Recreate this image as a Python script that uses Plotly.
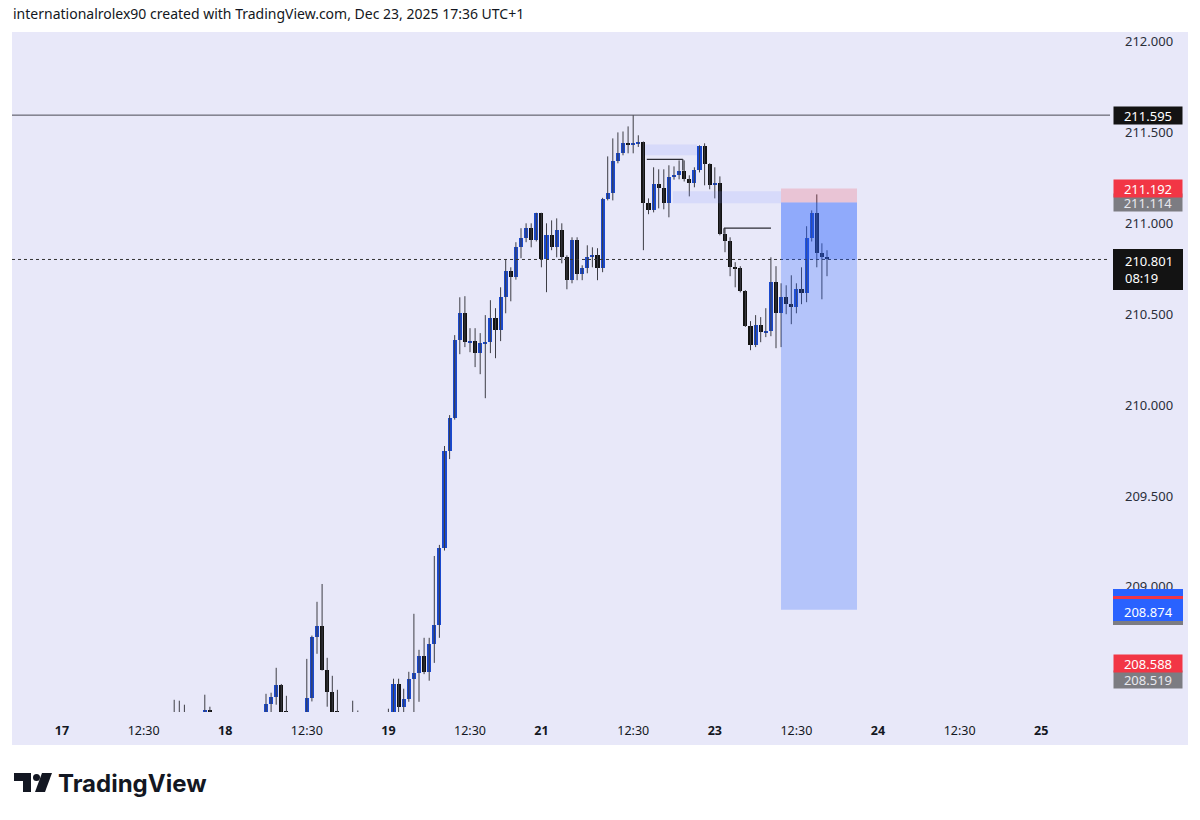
import plotly.graph_objects as go

# ---------------- data (GBPJPY-like, 45-minute bars) ----------------
FIRST_BAR = 24  # bar index of first listed bar (bars start Dec 16 23:00, every 0.75 h)
opens = [208.26, 208.22, 208.25, 208.21, 208.18, 208.20, 208.24, 208.324, 208.27, 208.22,
         208.17, 208.15, 208.19, 208.16, 208.13, 208.18, 208.21, 208.24, 208.28, 208.357,
         208.396, 208.462, 208.318, 208.25, 208.21, 208.19, 208.26, 208.390, 208.725, 208.786,
         208.544, 208.423, 208.315, 208.26, 208.22, 208.20, 208.24, 208.22, 208.17, 208.20,
         208.23, 208.21, 208.26, 208.29, 208.467, 208.341, 208.385, 208.495, 208.527, 208.621,
         208.533, 208.687, 208.791, 209.214, 209.747, 209.929, 210.357, 210.505, 210.346, 210.352,
         210.286, 210.341, 210.346, 210.478, 210.412, 210.593, 210.736, 210.703, 210.868, 210.918,
         210.973, 210.907, 211.055, 210.802, 210.934, 210.868, 210.962, 210.813, 210.687, 210.907,
         210.720, 210.753, 210.813, 210.824, 210.753, 211.132, 211.165, 211.341, 211.385, 211.440,
         211.429, 211.440, 211.445, 211.110, 211.071, 211.214, 211.192, 211.110, 211.253, 211.264,
         211.286, 211.242, 211.220, 211.291, 211.423, 211.324, 211.209, 211.220, 210.940, 210.901,
         210.758, 210.753, 210.626, 210.434, 210.330, 210.440, 210.401, 210.407, 210.676, 210.505,
         210.593, 210.555, 210.538, 210.637, 210.615, 210.918, 211.055, 210.835, 210.813]
highs = [208.379, 208.374, 208.352, 208.28, 208.27, 208.30, 208.407, 208.341, 208.30, 208.28,
         208.24, 208.22, 208.27, 208.23, 208.21, 208.26, 208.29, 208.30, 208.412, 208.418,
         208.555, 208.466, 208.401, 208.30, 208.28, 208.29, 208.604, 208.732, 208.918, 209.016,
         208.610, 208.511, 208.434, 208.30, 208.29, 208.374, 208.32, 208.28, 208.25, 208.27,
         208.30, 208.29, 208.33, 208.495, 208.495, 208.44, 208.533, 208.852, 208.654, 208.720,
         208.720, 209.170, 209.231, 209.775, 209.945, 210.385, 210.593, 210.599, 210.423, 210.423,
         210.396, 210.495, 210.577, 210.533, 210.648, 210.802, 210.758, 210.896, 210.973, 211.000,
         211.000, 211.058, 211.058, 211.000, 211.016, 211.027, 211.000, 210.824, 210.923, 210.923,
         210.769, 210.879, 210.868, 210.863, 211.140, 211.368, 211.467, 211.500, 211.505, 211.533,
         211.595, 211.484, 211.450, 211.137, 211.308, 211.297, 211.297, 211.319, 211.313, 211.346,
         211.346, 211.264, 211.308, 211.429, 211.440, 211.330, 211.308, 211.258, 210.973, 210.923,
         210.786, 210.764, 210.632, 210.462, 210.495, 210.484, 210.533, 210.813, 210.764, 210.670,
         210.659, 210.714, 210.670, 210.758, 210.984, 211.071, 211.159, 210.890, 210.852]
lows = [208.18, 208.15, 208.17, 208.12, 208.10, 208.15, 208.20, 208.22, 208.18, 208.14,
        208.10, 208.08, 208.12, 208.09, 208.06, 208.12, 208.15, 208.19, 208.25, 208.29,
        208.352, 208.26, 208.20, 208.17, 208.13, 208.15, 208.24, 208.37, 208.632, 208.54,
        208.341, 208.25, 208.22, 208.18, 208.15, 208.16, 208.19, 208.14, 208.11, 208.15,
        208.18, 208.16, 208.22, 208.27, 208.28, 208.29, 208.368, 208.30, 208.368, 208.52,
        208.484, 208.582, 208.720, 209.20, 209.703, 209.92, 210.280, 210.319, 210.291, 210.209,
        210.170, 210.038, 210.286, 210.258, 210.352, 210.505, 210.571, 210.69, 210.808, 210.896,
        210.868, 210.90, 210.758, 210.621, 210.852, 210.813, 210.780, 210.637, 210.670, 210.687,
        210.687, 210.725, 210.758, 210.687, 210.731, 211.126, 211.126, 211.330, 211.374, 211.385,
        211.385, 211.42, 210.852, 211.05, 211.060, 211.082, 211.077, 211.033, 211.24, 211.242,
        211.23, 211.148, 211.198, 211.28, 211.209, 211.187, 211.137, 210.934, 210.841, 210.709,
        210.648, 210.62, 210.43, 210.302, 210.319, 210.346, 210.374, 210.379, 210.313, 210.319,
        210.500, 210.445, 210.505, 210.555, 210.566, 210.90, 210.758, 210.582, 210.709]
closes = [208.22, 208.25, 208.21, 208.18, 208.20, 208.24, 208.324, 208.27, 208.22, 208.17,
          208.15, 208.19, 208.16, 208.13, 208.18, 208.21, 208.24, 208.28, 208.357, 208.396,
          208.462, 208.30, 208.25, 208.21, 208.19, 208.26, 208.390, 208.725, 208.786, 208.544,
          208.423, 208.28, 208.26, 208.22, 208.20, 208.24, 208.22, 208.17, 208.20, 208.23,
          208.21, 208.26, 208.29, 208.467, 208.341, 208.385, 208.495, 208.527, 208.621, 208.533,
          208.687, 208.791, 209.214, 209.747, 209.929, 210.357, 210.505, 210.346, 210.352, 210.286,
          210.341, 210.346, 210.478, 210.412, 210.593, 210.736, 210.703, 210.868, 210.918, 210.973,
          210.907, 211.055, 210.802, 210.934, 210.868, 210.962, 210.813, 210.687, 210.907, 210.720,
          210.753, 210.813, 210.824, 210.753, 211.132, 211.165, 211.341, 211.385, 211.440, 211.429,
          211.440, 211.445, 211.110, 211.071, 211.214, 211.192, 211.110, 211.253, 211.264, 211.286,
          211.242, 211.220, 211.291, 211.423, 211.324, 211.209, 211.220, 210.940, 210.901, 210.758,
          210.753, 210.626, 210.434, 210.330, 210.440, 210.401, 210.407, 210.676, 210.505, 210.593,
          210.555, 210.538, 210.637, 210.615, 210.918, 211.055, 210.835, 210.813, 210.801]

# time axis: trading hours since Dec 17 00:00 (weekend removed)
x_tick_hours = [0.5, 12.5, 24.5, 36.5, 48.5, 60.5, 71, 84.5, 96.5, 108.5, 120.5, 132.5, 144.5]
x_tick_labels = ["17", "12:30", "18", "12:30", "19", "12:30", "21", "12:30", "23", "12:30", "24", "12:30", "25"]
y_tick_values = [212.0, 211.5, 211.0, 210.5, 210.0, 209.5, 209.0]

# levels / drawings
high_level = 211.595
last_price = 210.801
countdown = "08:19"
entry_price = 211.114
stop_price = 211.192
target_price = 208.874
alert_red = 208.588
alert_gray = 208.519
zone1_hours, zone1_prices = (86.24, 93.88), (211.374, 211.434)
zone2_hours, zone2_prices = (90.35, 106.24), (211.110, 211.176)
lineA_hours, lineA_price, lineA_hook = (86.5, 91.8), 211.352, 211.291
lineB_hours, lineB_price, lineB_hook = (97.85, 104.76), 210.973, 210.942
position_hours = (106.24, 117.41)

header = "internationalrolex90 created with TradingView.com, Dec 23, 2025 17:36 UTC+1"

# ---------------- styling ----------------
OFF = 8                       # page body margin of the html page
W, H = 1200 - OFF, 820 - OFF
L, R, T, B = 12, 1110, 32, 712   # plot area in screen pixels
BG = "#E8E8F9"
BLUE = "#1A49CE"
BLACK = "#121212"
WICK = "#3d3d45"
FONT = "Noto Sans"

def px(xp):
    return (xp - L) / (R - L)

def py(yp):
    return (B - yp) / (B - T)

bar_hours = [-1 + 0.75 * (FIRST_BAR + i) for i in range(len(opens))]

wx, wy = [], []
for h, lo, hi in zip(bar_hours, lows, highs):
    wx += [h, h, None]
    wy += [lo, hi, None]

body_base = [min(o, c) for o, c in zip(opens, closes)]
body_h = [max(abs(c - o), 0.006) for o, c in zip(opens, closes)]
body_col = [BLUE if c >= o else BLACK for o, c in zip(opens, closes)]

fig = go.Figure()
fig.add_trace(go.Scatter(x=wx, y=wy, mode="lines", line=dict(color=WICK, width=1),
                         hoverinfo="skip", showlegend=False))
fig.add_trace(go.Bar(x=bar_hours, y=body_h, base=body_base, width=0.6,
                     marker=dict(color=body_col, line=dict(width=0)),
                     hoverinfo="skip", showlegend=False))

shapes = []
# panel background
shapes.append(dict(type="rect", xref="paper", yref="paper", x0=px(12), x1=px(1188),
                   y0=py(745), y1=py(32), fillcolor=BG, line=dict(width=0), layer="below"))
# horizontal levels
shapes.append(dict(type="line", xref="paper", yref="y", x0=0, x1=1, y0=high_level, y1=high_level,
                   line=dict(color="#4a4a55", width=1), layer="above"))
shapes.append(dict(type="line", xref="paper", yref="y", x0=0, x1=1, y0=last_price, y1=last_price,
                   line=dict(color="#333333", width=1, dash="dot"), layer="above"))
# zones
for hs, ps in [(zone1_hours, zone1_prices), (zone2_hours, zone2_prices)]:
    shapes.append(dict(type="rect", xref="x", yref="y", x0=hs[0], x1=hs[1], y0=ps[0], y1=ps[1],
                       fillcolor="rgba(130,150,255,0.17)", line=dict(width=0), layer="above"))
# lines with hooks
shapes.append(dict(type="line", xref="x", yref="y", x0=lineA_hours[0], x1=lineA_hours[1],
                   y0=lineA_price, y1=lineA_price, line=dict(color="#2b2b33", width=1.2), layer="above"))
shapes.append(dict(type="line", xref="x", yref="y", x0=lineA_hours[1], x1=lineA_hours[1],
                   y0=lineA_price, y1=lineA_hook, line=dict(color="#2b2b33", width=1.2), layer="above"))
shapes.append(dict(type="line", xref="x", yref="y", x0=lineB_hours[0], x1=lineB_hours[1],
                   y0=lineB_price, y1=lineB_price, line=dict(color="#2b2b33", width=1.2), layer="above"))
shapes.append(dict(type="line", xref="x", yref="y", x0=lineB_hours[0], x1=lineB_hours[0],
                   y0=lineB_price, y1=lineB_hook, line=dict(color="#2b2b33", width=1.2), layer="above"))
# short position tool
shapes.append(dict(type="rect", xref="x", yref="y", x0=position_hours[0], x1=position_hours[1],
                   y0=entry_price, y1=stop_price, fillcolor="rgba(242,54,69,0.20)",
                   line=dict(width=0), layer="above"))
shapes.append(dict(type="rect", xref="x", yref="y", x0=position_hours[0], x1=position_hours[1],
                   y0=target_price, y1=entry_price, fillcolor="rgba(41,98,255,0.27)",
                   line=dict(width=0), layer="above"))
shapes.append(dict(type="rect", xref="x", yref="y", x0=position_hours[0], x1=position_hours[1],
                   y0=last_price, y1=entry_price, fillcolor="rgba(41,98,255,0.26)",
                   line=dict(width=0), layer="above"))

annotations = []

def price_label(price, text, bg, fg="#ffffff", yshift=0, h=17):
    annotations.append(dict(xref="paper", yref="y", x=px(1148), y=price, text=text,
                            showarrow=False, xanchor="center", yanchor="middle", yshift=yshift,
                            bgcolor=bg, width=68, height=h, borderpad=0,
                            font=dict(family=FONT, size=13, color=fg)))

# label boxes on the price axis
price_label(alert_gray, f"{alert_gray:.3f}", "#7c7c82", "#e8e8ee", yshift=-5)
price_label(alert_red, f"{alert_red:.3f}", "#F23645", yshift=-2)
# stacked blue target label with red/gray strips
shapes.append(dict(type="rect", xref="paper", yref="paper", x0=px(1113), x1=px(1183),
                   y0=py(625), y1=py(589), fillcolor="#7c7c82", line=dict(width=0), layer="above"))
shapes.append(dict(type="rect", xref="paper", yref="paper", x0=px(1113), x1=px(1183),
                   y0=py(621), y1=py(589), fillcolor="#2962FF", line=dict(width=0), layer="above"))
shapes.append(dict(type="rect", xref="paper", yref="paper", x0=px(1113), x1=px(1183),
                   y0=py(599), y1=py(596), fillcolor="#F23645", line=dict(width=0), layer="above"))
annotations.append(dict(xref="paper", yref="y", x=px(1148), y=target_price, yshift=-2,
                        text=f"{target_price:.3f}", showarrow=False, xanchor="center", yanchor="middle",
                        font=dict(family=FONT, size=13, color="#ffffff")))
price_label(high_level, f"{high_level:.3f}", "#131313")
price_label(entry_price, f"{entry_price:.3f}", "#7c7c82", "#e8e8ee")
price_label(stop_price, f"{stop_price:.3f}", "#F23645")
# last price + countdown box
shapes.append(dict(type="rect", xref="paper", yref="paper", x0=px(1113), x1=px(1183),
                   y0=py(290), y1=py(249), fillcolor="#131313", line=dict(width=0), layer="above"))
annotations.append(dict(xref="paper", yref="y", x=px(1123), y=last_price, yshift=-10,
                        text=f"{last_price:.3f}<br>{countdown}", showarrow=False,
                        xanchor="left", yanchor="middle", align="left",
                        font=dict(family=FONT, size=13, color="#ffffff")))

# header
annotations.append(dict(xref="paper", yref="paper", x=px(12), y=py(13), text=header,
                        showarrow=False, xanchor="left", yanchor="middle", borderpad=0,
                        font=dict(family=FONT, size=14, color="#131722")))
# logo text
annotations.append(dict(xref="paper", yref="paper", x=px(56), y=py(783), text="<b>TradingView</b>",
                        showarrow=False, xanchor="left", yanchor="middle",
                        font=dict(family="Inter", size=24, color="#131722")))

def ppath(points):
    s = "M " + " L ".join(f"{px(a):.5f},{py(b):.5f}" for a, b in points) + " Z"
    return s

shapes.append(dict(type="path", xref="paper", yref="paper",
                   path=ppath([(14, 773), (31, 773), (31, 792), (23, 792), (23, 781), (14, 781)]),
                   fillcolor="#131722", line=dict(width=0), layer="above"))
shapes.append(dict(type="circle", xref="paper", yref="paper", x0=px(33), x1=px(40),
                   y0=py(781), y1=py(774), fillcolor="#131722", line=dict(width=0), layer="above"))
shapes.append(dict(type="path", xref="paper", yref="paper",
                   path=ppath([(42, 773), (52, 773), (45, 792), (35, 792)]),
                   fillcolor="#131722", line=dict(width=0), layer="above"))

tick_text = [f"<b>{t}</b>" if ":" not in t else t for t in x_tick_labels]

fig.update_layout(
    width=W, height=H,
    margin=dict(l=L - OFF, r=1200 - R, t=T - OFF, b=820 - B),
    paper_bgcolor="#ffffff", plot_bgcolor=BG,
    showlegend=False, bargap=0,
    shapes=shapes, annotations=annotations,
    xaxis=dict(range=[(L - 58.6) / 6.8, (R - 58.6) / 6.8], tickmode="array",
               tickvals=x_tick_hours, ticktext=tick_text, showgrid=False, zeroline=False,
               showline=False, ticks="", ticklabelstandoff=9,
               tickfont=dict(family=FONT, size=12.5, color="#131722"), fixedrange=True),
    yaxis=dict(range=[212 - (B - 41.5) / 181.8, 212 + (41.5 - T) / 181.8], side="right",
               tickmode="array", tickvals=y_tick_values,
               ticktext=[f"{v:.3f}" for v in y_tick_values], showgrid=False, zeroline=False,
               showline=False, ticks="", ticklabelstandoff=14,
               tickfont=dict(family=FONT, size=13, color="#2a2e39"), fixedrange=True),
)

fig.write_html("out.html")
